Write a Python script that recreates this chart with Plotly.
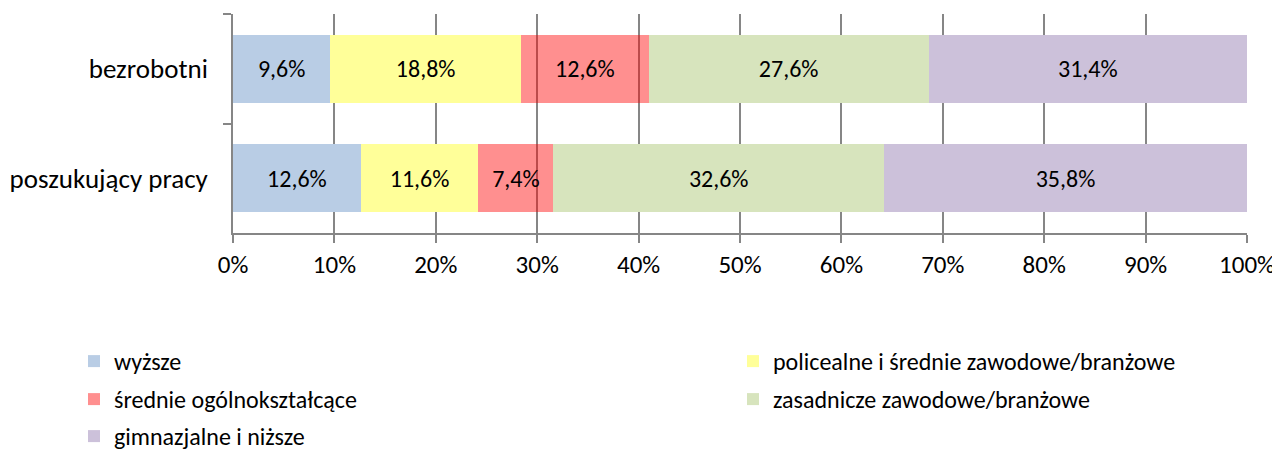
import plotly.graph_objects as go

categories = ["bezrobotni", "poszukujący pracy"]
series_names = [
    "wyższe",
    "policealne i średnie zawodowe/branżowe",
    "średnie ogólnokształcące",
    "zasadnicze zawodowe/branżowe",
    "gimnazjalne i niższe",
]
wyzsze = [9.6, 12.6]
policealne = [18.8, 11.6]
srednie_ogolne = [12.6, 7.4]
zasadnicze = [27.6, 32.6]
gimnazjalne = [31.4, 35.8]
series_values = [wyzsze, policealne, srednie_ogolne, zasadnicze, gimnazjalne]
colors = ["#B9CDE5", "#FFFF99", "rgba(255,0,0,0.44)", "#D7E4BD", "#CCC1DA"]
x_ticks = list(range(0, 101, 10))
x_tick_labels = [f"{v}%" for v in x_ticks]

FONT = "Carlito, Lato, 'Open Sans', sans-serif"
GRID = "#868686"
W, H = 1272, 442  # page body adds an 8px offset

# legend placement (container coords): column, row
legend_pos = [(0, 0), (1, 0), (0, 1), (1, 1), (0, 2)]
col_x = [66 / W, 725 / W]
row_top = [331, 369, 406]

fig = go.Figure()
layout_legends = {}
for i, (name, vals, col) in enumerate(zip(series_names, series_values, colors)):
    lid = "legend" if i == 0 else f"legend{i+1}"
    fig.add_trace(go.Bar(
        y=categories, x=vals, name=name, orientation="h",
        marker=dict(color=col, line=dict(width=0)),
        texttemplate="%{x:.1f}%", textposition="inside",
        insidetextanchor="middle", textangle=0, constraintext="none",
        textfont=dict(family=FONT, size=24, color="#000000"),
        legend=lid,
    ))
    c, r = legend_pos[i]
    layout_legends[lid] = dict(
        x=col_x[c], y=(H - row_top[r]) / H, xref="container", yref="container",
        xanchor="left", yanchor="top", orientation="h",
        font=dict(family=FONT, size=24, color="#000000"),
        bgcolor="rgba(0,0,0,0)", itemclick=False,
    )

fig.update_layout(
    width=W, height=H,
    margin=dict(l=225, r=33, t=6, b=217, autoexpand=False),
    barmode="stack", bargap=0.38,
    plot_bgcolor="white", paper_bgcolor="white",
    separators=", ",
    font=dict(family=FONT, size=24, color="#000000"),
    xaxis=dict(range=[0, 100], tickvals=x_ticks, ticktext=x_tick_labels,
               showgrid=True, gridcolor=GRID, gridwidth=1.5,
               showline=True, linecolor=GRID, linewidth=1.5,
               ticks="outside", ticklen=8, tickcolor=GRID, tickwidth=1.5,
               tickfont=dict(family=FONT, size=25), zeroline=False,
               fixedrange=True, automargin=False),
    yaxis=dict(autorange="reversed", showline=True, linecolor=GRID, linewidth=1.5,
               ticks="outside", ticklen=8, tickcolor=GRID, tickwidth=1.5,
               tickson="boundaries", tickfont=dict(family=FONT, size=27),
               ticklabelstandoff=18, fixedrange=True, automargin=False),
    showlegend=True,
    **layout_legends,
)

fig.write_html("out.html")
